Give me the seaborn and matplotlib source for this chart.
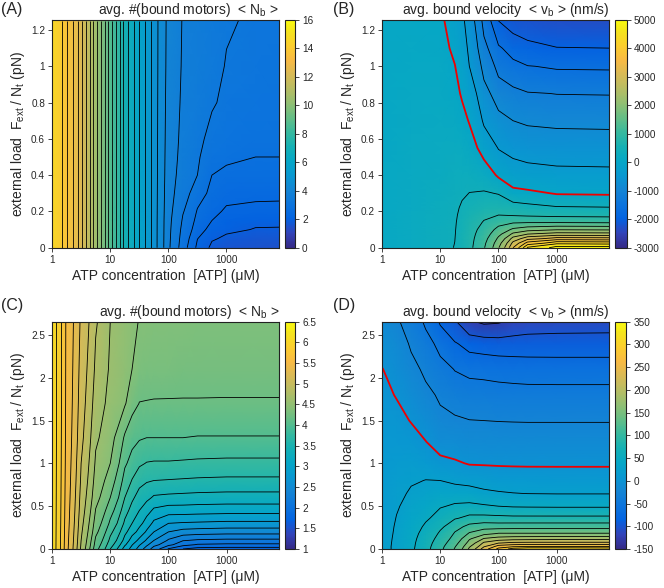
import numpy as np
import matplotlib
matplotlib.use('Agg')
import matplotlib.pyplot as plt
from matplotlib.colors import LinearSegmentedColormap
from matplotlib.ticker import NullLocator
import seaborn as sns

sns.set_style("ticks")
plt.rcParams['font.family'] = ['Liberation Sans', 'DejaVu Sans']
plt.rcParams['mathtext.fontset'] = 'custom'
plt.rcParams['mathtext.rm'] = 'Liberation Sans'
plt.rcParams['mathtext.it'] = 'Liberation Sans:italic'
plt.rcParams['contour.negative_linestyle'] = 'solid'

# parula-like colour table (MATLAB default)
parula_pos = [0, 4, 8, 12, 16, 20, 24, 28, 32, 36, 40, 44, 48, 52, 56, 60, 63]
parula_rgb = [
    (0.2081, 0.1663, 0.5292), (0.1959, 0.2645, 0.7279), (0.0117, 0.3875, 0.8820),
    (0.0498, 0.4586, 0.8641), (0.0793, 0.5200, 0.8312), (0.0343, 0.5966, 0.8199),
    (0.0228, 0.6535, 0.7768), (0.0843, 0.6928, 0.7062), (0.2178, 0.7250, 0.6193),
    (0.3953, 0.7459, 0.5244), (0.5709, 0.7485, 0.4494), (0.7184, 0.7411, 0.3905),
    (0.8507, 0.7299, 0.3360), (0.9739, 0.7314, 0.2666), (0.9880, 0.8066, 0.1794),
    (0.9589, 0.8949, 0.1132), (0.9763, 0.9831, 0.0538)]
parula = LinearSegmentedColormap.from_list(
    'parula', [(p / 63, c) for p, c in zip(parula_pos, parula_rgb)], N=256)

# ---------------- (A) <N_b>, small load range ----------------
atp_a = [1, 1.778, 3.162, 5.623, 10, 17.78, 31.62, 56.23, 100, 177.8, 316.2, 562.3, 1000, 3162, 8000]
load_a = [0, 0.05, 0.1, 0.15, 0.2, 0.3, 0.4, 0.5, 0.6, 0.8, 1.0, 1.25]
# one list per ATP value, running over load_a
nb_a = [
    [14.74, 14.74, 14.74, 14.74, 14.74, 14.74, 14.74, 14.74, 14.74, 14.74, 14.74, 14.74],
    [13.64, 13.64, 13.64, 13.64, 13.64, 13.64, 13.64, 13.64, 13.64, 13.64, 13.64, 13.64],
    [12.31, 12.31, 12.31, 12.31, 12.31, 12.31, 12.31, 12.31, 12.31, 12.31, 12.31, 12.31],
    [10.58, 10.58, 10.58, 10.58, 10.58, 10.58, 10.58, 10.58, 10.58, 10.58, 10.58, 10.58],
    [8.78, 8.78, 8.78, 8.78, 8.78, 8.78, 8.78, 8.78, 8.78, 8.78, 8.78, 8.78],
    [7.10, 7.10, 7.10, 7.10, 7.10, 7.10, 7.10, 7.10, 7.10, 7.10, 7.10, 7.10],
    [5.90, 5.90, 5.90, 5.90, 5.90, 5.90, 5.90, 5.90, 5.90, 5.90, 5.90, 5.90],
    [4.78, 4.78, 4.78, 4.78, 4.78, 4.78, 4.78, 4.78, 4.78, 4.78, 4.78, 4.78],
    [3.77, 3.78, 3.79, 3.80, 3.82, 3.85, 3.88, 3.90, 3.92, 3.95, 3.98, 4.00],
    [2.98, 3.05, 3.12, 3.20, 3.28, 3.42, 3.50, 3.55, 3.58, 3.62, 3.65, 3.67],
    [2.24, 2.36, 2.55, 2.66, 2.76, 3.00, 3.25, 3.30, 3.35, 3.45, 3.50, 3.55],
    [1.78, 1.95, 2.15, 2.35, 2.45, 2.65, 2.80, 2.95, 3.10, 3.30, 3.38, 3.42],
    [1.62, 1.80, 2.00, 2.12, 2.28, 2.50, 2.68, 2.90, 3.00, 3.12, 3.22, 3.30],
    [1.50, 1.65, 1.86, 2.05, 2.20, 2.48, 2.65, 2.80, 2.90, 3.00, 3.08, 3.12],
    [1.48, 1.64, 1.85, 2.04, 2.19, 2.47, 2.64, 2.80, 2.89, 2.98, 3.05, 3.10],
]

# ---------------- (B) <v_b>, small load range ----------------
atp_b = [1, 3.162, 10, 17.78, 23.71, 31.62, 56.23, 100, 177.8, 316.2, 1000, 8000]
load_b = [0, 0.025, 0.05, 0.075, 0.1, 0.14, 0.18, 0.22, 0.3, 0.4, 0.55, 0.7, 0.85, 1.0, 1.1, 1.25]
vb_b = [
    [110, 110, 109, 108, 107, 106, 104, 102, 99, 95, 90, 85, 80, 76, 73, 70],
    [200, 199, 198, 196, 194, 191, 188, 185, 178, 170, 157, 143, 128, 113, 103, 88],
    [330, 330, 325, 320, 315, 305, 295, 285, 265, 240, 200, 165, 130, 100, 80, 50],
    [410, 402, 396, 390, 385, 375, 362, 348, 320, 285, 225, 150, 80, 8, -60, -165],
    [560, 553, 545, 536, 526, 508, 478, 440, 360, 300, 205, 90, -35, -150, -220, -325],
    [715, 705, 695, 680, 665, 630, 575, 520, 405, 290, 140, -20, -200, -400, -480, -580],
    [1170, 1130, 1080, 1020, 950, 830, 720, 610, 430, 200, -150, -460, -680, -920, -1100, -1330],
    [1970, 1850, 1680, 1500, 1340, 1040, 800, 650, 380, -60, -420, -680, -1000, -1330, -1550, -2000],
    [3200, 2920, 2560, 2100, 1680, 1150, 770, 600, 80, -180, -540, -800, -1110, -1480, -1790, -2180],
    [4470, 3780, 3080, 2400, 1850, 1170, 740, 530, 60, -250, -580, -850, -1180, -1590, -1900, -2250],
    [5000, 4300, 3380, 2580, 1970, 1170, 700, 440, -30, -300, -600, -880, -1210, -1650, -1990, -2300],
    [5000, 4250, 3350, 2560, 1950, 1150, 680, 420, -50, -310, -610, -890, -1220, -1660, -2000, -2320],
]

# ---------------- (C) <N_b>, large load range ----------------
atp_c = [1, 1.778, 3.162, 5.623, 10, 17.78, 23.71, 31.62, 42.17, 56.23, 100, 177.8, 316.2, 1000, 8000]
load_c = [0, 0.05, 0.1, 0.2, 0.3, 0.45, 0.6, 0.8, 1.0, 1.3, 1.7, 2.1, 2.65]
nb_c = [
    [6.15, 6.15, 6.15, 6.15, 6.15, 6.15, 6.15, 6.15, 6.15, 6.15, 6.15, 6.15, 6.15],
    [5.46, 5.465, 5.47, 5.48, 5.49, 5.50, 5.51, 5.52, 5.53, 5.54, 5.55, 5.555, 5.56],
    [4.76, 4.78, 4.80, 4.83, 4.86, 4.90, 4.93, 4.97, 5.00, 5.05, 5.09, 5.12, 5.16],
    [4.07, 4.12, 4.16, 4.25, 4.31, 4.39, 4.46, 4.52, 4.57, 4.63, 4.70, 4.76, 4.82],
    [3.60, 3.68, 3.75, 3.85, 3.96, 4.08, 4.20, 4.30, 4.40, 4.47, 4.53, 4.57, 4.60],
    [3.10, 3.23, 3.33, 3.45, 3.56, 3.68, 3.80, 3.92, 4.03, 4.17, 4.42, 4.47, 4.49],
    [2.93, 3.01, 3.10, 3.28, 3.40, 3.52, 3.64, 3.79, 3.92, 4.07, 4.27, 4.40, 4.44],
    [2.70, 2.82, 2.95, 3.13, 3.26, 3.40, 3.50, 3.68, 3.83, 4.02, 4.195, 4.31, 4.39],
    [2.50, 2.64, 2.77, 2.97, 3.11, 3.28, 3.45, 3.62, 3.79, 4.00, 4.19, 4.30, 4.38],
    [2.30, 2.46, 2.60, 2.80, 2.95, 3.16, 3.37, 3.60, 3.78, 4.00, 4.185, 4.30, 4.37],
    [1.98, 2.25, 2.37, 2.60, 2.80, 3.10, 3.35, 3.59, 3.78, 4.00, 4.185, 4.29, 4.36],
    [1.80, 2.06, 2.21, 2.52, 2.78, 3.10, 3.34, 3.58, 3.77, 4.00, 4.185, 4.28, 4.36],
    [1.72, 1.98, 2.17, 2.50, 2.77, 3.09, 3.33, 3.57, 3.76, 3.99, 4.185, 4.28, 4.35],
    [1.70, 1.96, 2.15, 2.48, 2.75, 3.08, 3.32, 3.56, 3.75, 3.99, 4.185, 4.27, 4.35],
    [1.70, 1.96, 2.15, 2.48, 2.75, 3.08, 3.32, 3.56, 3.75, 3.99, 4.185, 4.27, 4.35],
]

# ---------------- (D) <v_b>, large load range ----------------
atp_d = [1, 1.778, 3.162, 5.623, 10, 17.78, 31.62, 56.23, 100, 177.8, 316.2, 1000, 8000]
load_d = [0, 0.03, 0.07, 0.12, 0.18, 0.26, 0.36, 0.5, 0.65, 0.8, 1.0, 1.25, 1.5, 1.8, 2.1, 2.4, 2.65]
vb_d = [
    [20, 20, 19.6, 19.2, 18.6, 18, 17, 16, 14.5, 13, 11, 8.5, 6, 3.5, 0.5, -7, -15],
    [29, 29, 28.8, 28.4, 27.8, 27, 25.6, 23.5, 21, 18.5, 14.5, 10, 5, -1, -8, -15, -22],
    [46, 45.5, 45, 44, 42.5, 40, 36.5, 32, 27.5, 23, 16.5, 8, -1, -10, -19, -28, -37],
    [68, 67, 65.5, 63, 59.5, 54, 46.5, 38, 31, 25.5, 14, 0.5, -9, -19.5, -30, -42, -54],
    [95, 93.5, 90, 85, 79, 70.5, 61, 48, 36, 25, 6, -10, -19, -29, -42, -58, -78],
    [127, 123, 117, 110, 102.5, 92, 73, 54, 35, 21, 2.5, -11, -22, -36, -51, -73, -97],
    [180, 172, 160, 147, 128, 108, 82, 56, 34, 18.5, -1.5, -14, -24.5, -40, -55.5, -85, -122],
    [240, 222, 205, 177, 143, 115, 83, 53, 29, 16.5, -2, -14, -25, -40, -57, -88, -129],
    [283, 262, 224, 186, 152, 114, 82, 50, 27, 14, -2.5, -14, -25.5, -41, -59, -90, -127],
    [312, 270, 231, 190, 152, 115, 81, 48, 25.5, 13, -2.8, -14, -25.8, -41.5, -60.5, -90, -118],
    [322, 274, 232, 191, 152, 115, 81, 47.5, 24.5, 12.5, -3, -14, -26, -42, -61.5, -90, -113],
    [322, 275, 232, 192, 152, 115, 81, 47, 24, 12, -3, -14, -26, -42, -62, -90, -111],
    [318, 275, 232, 192, 152, 115, 81, 47, 24, 12, -3, -14, -26, -42, -62, -90, -110],
]

XLABEL = 'ATP concentration  [ATP] (\u03bcM)'
YLABEL = r'external load  F$_\mathrm{ext}$ / N$_\mathrm{t}$ (pN)'
TITLE_N = r'avg. #(bound motors)  < N$_\mathrm{b}$ >'
TITLE_V = r'avg. bound velocity  < v$_\mathrm{b}$ > (nm/s)'

W, H = 664, 588


def rect(x0, y0, x1, y1):
    """pixel box (top-left origin) -> figure fraction"""
    return [x0 / W, 1 - y1 / H, (x1 - x0) / W, (y1 - y0) / H]


def draw_panel(fig, box, cbox, atp, load, cols, levels, vmin, vmax, cticks,
               ymax, yticks, ylabels, title, red_zero):
    ax = fig.add_axes(rect(*box))
    cax = fig.add_axes(rect(*cbox))
    X, Y = np.meshgrid(atp, load)
    Z = np.array(cols, dtype=float).T

    mesh = ax.pcolormesh(X, Y, Z, shading='gouraud', cmap=parula,
                         vmin=vmin, vmax=vmax, rasterized=True)
    ax.contour(X, Y, Z, levels=levels, colors='black', linewidths=0.6,
               linestyles='solid')
    if red_zero:
        ax.contour(X, Y, Z, levels=[0], colors='#ee0000', linewidths=1.3,
                   linestyles='solid')

    ax.set_xscale('log')
    ax.set_xlim(1, 8000)
    ax.set_ylim(0, ymax)
    ax.set_xticks([1, 10, 100, 1000])
    ax.set_xticklabels(['1', '10', '100', '1000'])
    ax.xaxis.set_minor_locator(NullLocator())
    ax.set_yticks(yticks)
    ax.set_yticklabels(ylabels)
    ax.tick_params(direction='out', length=3, width=0.6, labelsize=7.2, pad=2)
    for s in ax.spines.values():
        s.set_linewidth(0.8)
        s.set_color('#222222')
    ax.set_xlabel(XLABEL, fontsize=10, labelpad=3)
    ax.set_ylabel(YLABEL, fontsize=10, labelpad=3)
    ax.set_title(title, loc='right', fontsize=10, pad=4)

    cb = fig.colorbar(mesh, cax=cax)
    cb.set_ticks(cticks)
    cb.set_ticklabels(['%g' % t for t in cticks])
    cb.ax.tick_params(direction='out', length=3, width=0.6, labelsize=7.2, pad=2)
    cb.outline.set_linewidth(0.8)
    cb.outline.set_edgecolor('#222222')
    return ax


fig = plt.figure(figsize=(W / 100, H / 100), dpi=100)

ylab_small = ['0', '0.2', '0.4', '0.6', '0.8', '1', '1.2']
ylab_big = ['0', '0.5', '1', '1.5', '2', '2.5']

levels_a = [round(1.9 + 0.45 * k, 2) for k in range(28)]
levels_b = [-2000, -1600, -1200, -800, -400] + [400 * k for k in range(1, 13)]
levels_c = [round(1.8 + 0.2 * k, 2) for k in range(22)]
levels_d = [-125, -100, -75, -50, -25] + [25 * k for k in range(1, 13)]

draw_panel(fig, (52, 20, 279, 247.7), (284.5, 20, 295, 247.7), atp_a, load_a, nb_a,
           levels_a, 0, 16, list(range(0, 17, 2)), 1.255,
           [0, 0.2, 0.4, 0.6, 0.8, 1.0, 1.2], ylab_small, TITLE_N, False)
draw_panel(fig, (382, 20, 609.3, 247.7), (615.3, 20, 626.5, 247.7), atp_b, load_b, vb_b,
           levels_b, -3000, 5000, list(range(-3000, 5001, 1000)), 1.255,
           [0, 0.2, 0.4, 0.6, 0.8, 1.0, 1.2], ylab_small, TITLE_V, True)
draw_panel(fig, (52, 321.7, 279.3, 549), (284.5, 321.7, 295.3, 549), atp_c, load_c, nb_c,
           levels_c, 1, 6.5, [1, 1.5, 2, 2.5, 3, 3.5, 4, 4.5, 5, 5.5, 6, 6.5], 2.655,
           [0, 0.5, 1.0, 1.5, 2.0, 2.5], ylab_big, TITLE_N, False)
draw_panel(fig, (382, 321.7, 609.3, 549), (615.3, 321.7, 626.3, 549), atp_d, load_d, vb_d,
           levels_d, -150, 350, list(range(-150, 351, 50)), 2.655,
           [0, 0.5, 1.0, 1.5, 2.0, 2.5], ylab_big, TITLE_V, True)

for lab, x, y in [('(A)', 1, 2), ('(B)', 333, 2), ('(C)', 1, 298), ('(D)', 333, 298)]:
    fig.text(x / W, 1 - y / H, lab, fontsize=11.5, va='top', ha='left')

fig.savefig('out.png', dpi=100)
